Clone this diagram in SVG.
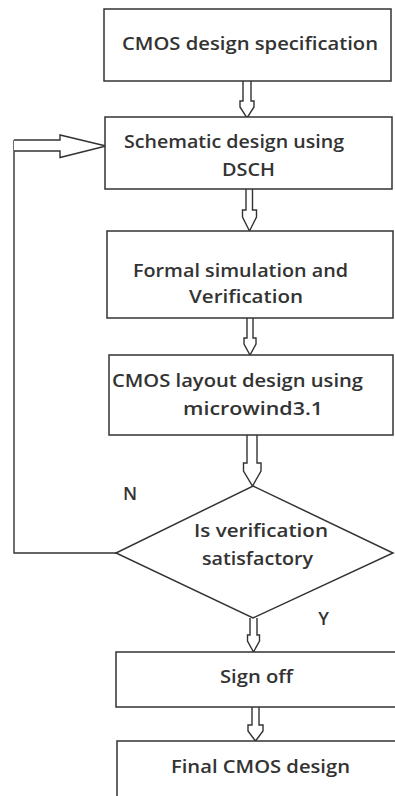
<svg xmlns="http://www.w3.org/2000/svg" width="395" height="796" viewBox="0 0 395 796">
<style>
.box{fill:#fff;stroke:#333;stroke-width:1.5}
.arr{fill:#fff;stroke:#333;stroke-width:1.4;stroke-linejoin:miter}
.ln{fill:none;stroke:#333;stroke-width:1.4}
text{font-family:"Open Sans",Lato,sans-serif;font-weight:600;font-size:18px;fill:#333;text-anchor:middle}
</style>
<rect width="395" height="796" fill="#fff"/>
<g id="connectors">
<path class="arr" d="M243,81 V101 H240 V107 L247,118 L254,107 V101 H251 V81"/>
<path class="arr" d="M246,189 V210 H242.5 V217 L249.5,231 L256.5,217 V210 H252.5 V189"/>
<path class="arr" d="M247,318 V338 H244 V344 L250,355 L256,344 V338 H253 V318"/>
<path class="arr" d="M247,435 V463 H243.5 V471 L252.5,486 L261,471 V463 H257 V435"/>
<path class="arr" d="M250,618 V635 H247.5 V641 L253.5,652 L259.5,641 V635 H257 V618"/>
<path class="arr" d="M252,707 V725 H248 V731 L255.5,741 L263,731 V725 H259 V707"/>
<path class="ln" d="M116,553 H14 V140"/>
<path class="arr" d="M14,140 H60 V135 L106,146 L60,157.5 V151 H14"/>
</g>
<g id="n1"><rect class="box" x="104" y="9" width="287" height="72"/><text x="250" y="50" textLength="256" lengthAdjust="spacingAndGlyphs">CMOS design specification</text></g>
<g id="n2"><rect class="box" x="105" y="117" width="287" height="72"/><text x="234" y="148" textLength="220" lengthAdjust="spacingAndGlyphs">Schematic design using</text><text x="248.5" y="176" textLength="53" lengthAdjust="spacingAndGlyphs">DSCH</text></g>
<g id="n3"><rect class="box" x="107" y="231" width="286" height="87"/><text x="240.5" y="277" textLength="215" lengthAdjust="spacingAndGlyphs">Formal simulation and</text><text x="246" y="303" textLength="114" lengthAdjust="spacingAndGlyphs">Verification</text></g>
<g id="n4"><rect class="box" x="109" y="355" width="284" height="80"/><text x="237.5" y="387" textLength="251" lengthAdjust="spacingAndGlyphs">CMOS layout design using</text><text x="253" y="415" textLength="140" lengthAdjust="spacingAndGlyphs">microwind3.1</text></g>
<g id="n5"><path class="box" d="M253,486 L393,553 L253,618 L116,553 Z"/><text x="261" y="537" textLength="134" lengthAdjust="spacingAndGlyphs">Is verification</text><text x="257.5" y="565" textLength="111" lengthAdjust="spacingAndGlyphs">satisfactory</text></g>
<g id="lblN"><text x="130" y="500">N</text></g>
<g id="lblY"><text x="323.5" y="625">Y</text></g>
<g id="n6"><rect class="box" x="116" y="652" width="290" height="55"/><text x="256.5" y="683" textLength="73" lengthAdjust="spacingAndGlyphs">Sign off</text></g>
<g id="n7"><rect class="box" x="117" y="741" width="290" height="70"/><text x="260.5" y="773" textLength="179" lengthAdjust="spacingAndGlyphs">Final CMOS design</text></g>
</svg>
